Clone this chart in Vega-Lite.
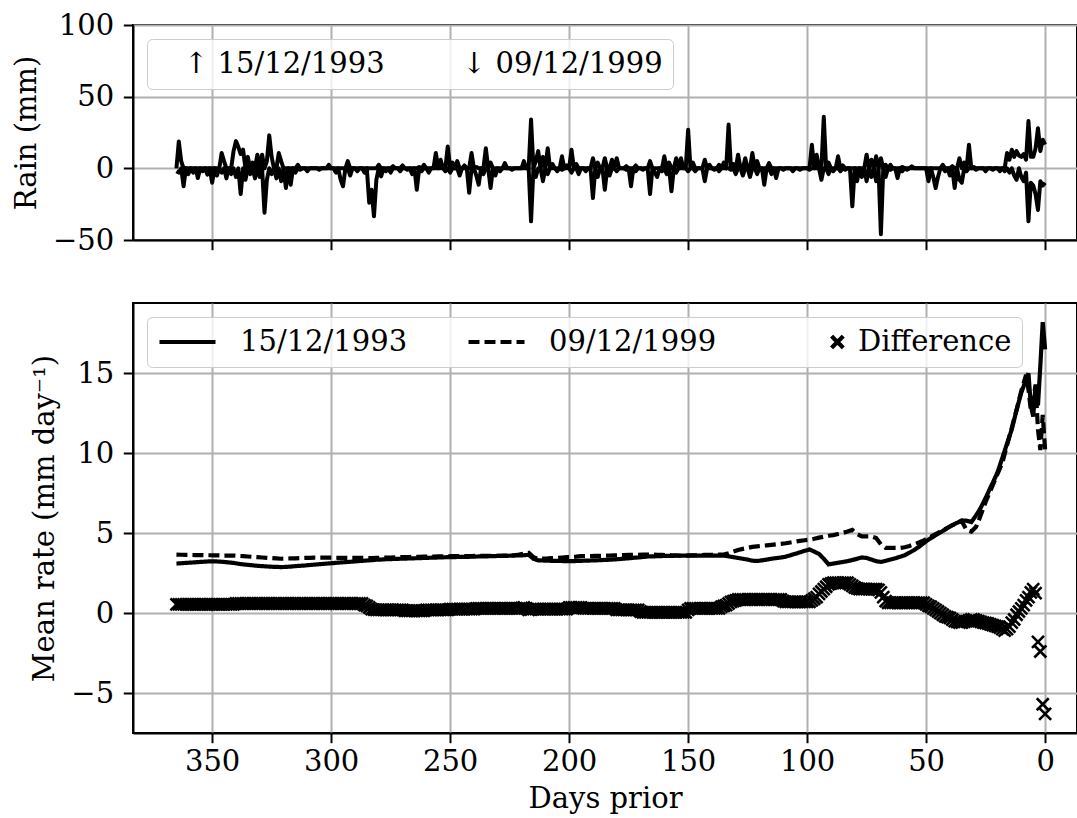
{
"$schema": "https://vega.github.io/schema/vega-lite/v6.json",
"background": "white",
"padding": {"left": 11, "top": 10, "right": 0, "bottom": 0},
"config": {
  "font": "DejaVu Serif",
  "view": {"stroke": "black", "strokeWidth": 2},
  "axis": {"domainColor": "black", "domainWidth": 2, "tickColor": "black", "tickWidth": 2, "tickSize": 9.7, "labelFont": "DejaVu Serif", "labelFontSize": 29, "labelColor": "black", "labelPadding": 9.7, "labelFlush": false, "titleFont": "DejaVu Serif", "titleFontSize": 29, "titleFontWeight": "normal", "titleColor": "black", "titlePadding": 11, "gridColor": "#b0b0b0", "gridWidth": 2},
  "legend": {"labelFont": "DejaVu Serif", "labelFontSize": 29, "labelColor": "black", "labelLimit": 500, "fillColor": "rgba(255,255,255,0.8)", "strokeColor": "#cccccc", "cornerRadius": 5, "padding": 10}
},
"datasets": {
"rain": [
{"d":365,"a":0,"b":-2},{"d":364,"a":18.8,"b":-3},{"d":363,"a":5,"b":0},{"d":362,"a":0,"b":-12.5},{"d":361,"a":0,"b":0},{"d":360,"a":0,"b":-4},{"d":359,"a":0,"b":0},{"d":358,"a":0,"b":-3},{"d":357,"a":0,"b":0},{"d":356,"a":0,"b":-6.7},{"d":355,"a":0,"b":0},{"d":354,"a":0,"b":-2},{"d":353,"a":0,"b":0},{"d":352,"a":0,"b":-4.4},{"d":351,"a":0,"b":0},{"d":350,"a":0,"b":-10},{"d":349,"a":0,"b":0},{"d":348,"a":0,"b":-5},{"d":347,"a":0,"b":0},{"d":346,"a":10.7,"b":-3},
{"d":345,"a":5,"b":0},{"d":344,"a":0,"b":-7},{"d":343,"a":0,"b":0},{"d":342,"a":0,"b":-4},{"d":341,"a":12,"b":0},{"d":340,"a":19,"b":-6},{"d":339,"a":15,"b":0},{"d":338,"a":10,"b":-18},{"d":337,"a":13,"b":0},{"d":336,"a":0,"b":-8},{"d":335,"a":8,"b":0},{"d":334,"a":0,"b":-4},{"d":333,"a":4,"b":0},{"d":332,"a":0,"b":-7},{"d":331,"a":9.5,"b":0},{"d":330,"a":0,"b":-6},{"d":329,"a":9.5,"b":0},{"d":328,"a":0,"b":-31},{"d":327,"a":5,"b":-8},{"d":326,"a":23,"b":0},
{"d":325,"a":8,"b":-4},{"d":324,"a":0,"b":0},{"d":323,"a":0,"b":-7},{"d":322,"a":10.7,"b":0},{"d":321,"a":5,"b":-9},{"d":320,"a":0,"b":0},{"d":319,"a":0,"b":-13.7},{"d":318,"a":0,"b":0},{"d":317,"a":0,"b":-11.4},{"d":316,"a":0,"b":0},{"d":315,"a":0,"b":-3},{"d":314,"a":2.5,"b":0},{"d":313,"a":0,"b":-1},{"d":312,"a":0,"b":0},{"d":311,"a":0,"b":0},{"d":310,"a":0,"b":-2},{"d":309,"a":0,"b":0},{"d":308,"a":0,"b":0},{"d":307,"a":0,"b":0},{"d":306,"a":0,"b":0},
{"d":305,"a":0,"b":-1},{"d":304,"a":0,"b":0},{"d":303,"a":0,"b":0},{"d":302,"a":0,"b":0},{"d":301,"a":2.5,"b":0},{"d":300,"a":0,"b":0},{"d":299,"a":0,"b":0},{"d":298,"a":0,"b":-3},{"d":297,"a":0,"b":0},{"d":296,"a":0,"b":-8},{"d":295,"a":0,"b":-12.5},{"d":294,"a":0,"b":0},{"d":293,"a":5,"b":0},{"d":292,"a":0,"b":-5},{"d":291,"a":0,"b":0},{"d":290,"a":0,"b":0},{"d":289,"a":0,"b":-2},{"d":288,"a":0,"b":0},{"d":287,"a":0,"b":0},{"d":286,"a":0,"b":-3},
{"d":285,"a":0,"b":0},{"d":284,"a":0,"b":-24},{"d":283,"a":0,"b":-15},{"d":282,"a":0,"b":-33.5},{"d":281,"a":0,"b":-8},{"d":280,"a":2.5,"b":0},{"d":279,"a":0,"b":-5.6},{"d":278,"a":0,"b":0},{"d":277,"a":0,"b":-2},{"d":276,"a":0,"b":0},{"d":275,"a":0,"b":-3},{"d":274,"a":1.5,"b":0},{"d":273,"a":0,"b":0},{"d":272,"a":0,"b":0},{"d":271,"a":0,"b":-2},{"d":270,"a":2,"b":0},{"d":269,"a":0,"b":0},{"d":268,"a":0,"b":-1},{"d":267,"a":0,"b":0},{"d":266,"a":0,"b":-4},
{"d":265,"a":0,"b":0},{"d":264,"a":0,"b":-15},{"d":263,"a":1,"b":0},{"d":262,"a":0,"b":-2},{"d":261,"a":2.5,"b":0},{"d":260,"a":0,"b":0},{"d":259,"a":0,"b":-3},{"d":258,"a":0,"b":0},{"d":257,"a":0,"b":0},{"d":256,"a":10.7,"b":0},{"d":255,"a":0,"b":0},{"d":254,"a":6,"b":0},{"d":253,"a":0,"b":0},{"d":252,"a":0,"b":-2},{"d":251,"a":15.3,"b":0},{"d":250,"a":0,"b":-3},{"d":249,"a":4,"b":0},{"d":248,"a":0,"b":0},{"d":247,"a":5,"b":0},{"d":246,"a":0,"b":-5},
{"d":245,"a":0,"b":0},{"d":244,"a":2,"b":0},{"d":243,"a":0,"b":0},{"d":242,"a":0,"b":-17},{"d":241,"a":10.7,"b":0},{"d":240,"a":0,"b":0},{"d":239,"a":1,"b":-5},{"d":238,"a":0,"b":-11.4},{"d":237,"a":0,"b":0},{"d":236,"a":0,"b":-4},{"d":235,"a":14,"b":0},{"d":234,"a":0,"b":0},{"d":233,"a":4,"b":-13.7},{"d":232,"a":0,"b":0},{"d":231,"a":0,"b":-5},{"d":230,"a":0,"b":0},{"d":229,"a":0,"b":-2},{"d":228,"a":0,"b":0},{"d":227,"a":3.7,"b":0},{"d":226,"a":0,"b":0},
{"d":225,"a":0,"b":0},{"d":224,"a":0,"b":-1},{"d":223,"a":0,"b":0},{"d":222,"a":0,"b":0},{"d":221,"a":0,"b":0},{"d":220,"a":0,"b":0},{"d":219,"a":5,"b":0},{"d":218,"a":0,"b":0},{"d":217,"a":0,"b":0},{"d":216,"a":34,"b":-37},{"d":215,"a":0,"b":0},{"d":214,"a":5,"b":-6},{"d":213,"a":12,"b":0},{"d":212,"a":0,"b":0},{"d":211,"a":8,"b":-9},{"d":210,"a":0,"b":0},{"d":209,"a":14,"b":-4},{"d":208,"a":0,"b":0},{"d":207,"a":3,"b":0},{"d":206,"a":0,"b":0},
{"d":205,"a":0,"b":-2},{"d":204,"a":0,"b":0},{"d":203,"a":8.4,"b":-1},{"d":202,"a":0,"b":0},{"d":201,"a":2,"b":0},{"d":200,"a":0,"b":0},{"d":199,"a":13,"b":-3},{"d":198,"a":0,"b":0},{"d":197,"a":3,"b":0},{"d":196,"a":0,"b":-4},{"d":195,"a":0,"b":0},{"d":194,"a":0,"b":0},{"d":193,"a":0,"b":-2},{"d":192,"a":0,"b":0},{"d":191,"a":0,"b":0},{"d":190,"a":7,"b":-20.7},{"d":189,"a":0,"b":0},{"d":188,"a":4,"b":-6},{"d":187,"a":0,"b":0},{"d":186,"a":0,"b":0},
{"d":185,"a":7,"b":-15},{"d":184,"a":0,"b":0},{"d":183,"a":0,"b":-5},{"d":182,"a":6,"b":0},{"d":181,"a":0,"b":0},{"d":180,"a":7,"b":-2},{"d":179,"a":0,"b":0},{"d":178,"a":0,"b":0},{"d":177,"a":0,"b":0},{"d":176,"a":1.5,"b":-1},{"d":175,"a":0,"b":0},{"d":174,"a":0,"b":-12.5},{"d":173,"a":0,"b":0},{"d":172,"a":2,"b":-2},{"d":171,"a":0,"b":0},{"d":170,"a":0,"b":0},{"d":169,"a":0,"b":-1},{"d":168,"a":0,"b":0},{"d":167,"a":0,"b":0},{"d":166,"a":5,"b":-18},
{"d":165,"a":0,"b":0},{"d":164,"a":0,"b":-3},{"d":163,"a":0,"b":-6},{"d":162,"a":0,"b":0},{"d":161,"a":0,"b":-2},{"d":160,"a":8.4,"b":0},{"d":159,"a":0,"b":-4},{"d":158,"a":4,"b":0},{"d":157,"a":0,"b":-16},{"d":156,"a":0,"b":0},{"d":155,"a":7,"b":-3},{"d":154,"a":0,"b":0},{"d":153,"a":7,"b":0},{"d":152,"a":0,"b":0},{"d":151,"a":0,"b":0},{"d":150,"a":27,"b":-2},{"d":149,"a":0,"b":0},{"d":148,"a":4,"b":0},{"d":147,"a":0,"b":-2},{"d":146,"a":0,"b":0},
{"d":145,"a":0,"b":0},{"d":144,"a":0,"b":0},{"d":143,"a":6,"b":-9},{"d":142,"a":0,"b":0},{"d":141,"a":2.5,"b":0},{"d":140,"a":0,"b":0},{"d":139,"a":0,"b":-1},{"d":138,"a":0,"b":0},{"d":137,"a":2.5,"b":-2},{"d":136,"a":0,"b":0},{"d":135,"a":4,"b":0},{"d":134,"a":0,"b":0},{"d":133,"a":30.5,"b":0},{"d":132,"a":0,"b":-1},{"d":131,"a":3,"b":0},{"d":130,"a":0,"b":-4},{"d":129,"a":9.5,"b":0},{"d":128,"a":0,"b":0},{"d":127,"a":0,"b":-5},{"d":126,"a":7,"b":0},
{"d":125,"a":0,"b":0},{"d":124,"a":0,"b":-6},{"d":123,"a":10.7,"b":0},{"d":122,"a":0,"b":0},{"d":121,"a":5,"b":-4},{"d":120,"a":0,"b":0},{"d":119,"a":0,"b":0},{"d":118,"a":0,"b":-11.4},{"d":117,"a":0,"b":0},{"d":116,"a":3.7,"b":0},{"d":115,"a":0,"b":-4},{"d":114,"a":0,"b":0},{"d":113,"a":0,"b":-6.7},{"d":112,"a":0,"b":0},{"d":111,"a":0,"b":0},{"d":110,"a":0,"b":-1},{"d":109,"a":0,"b":0},{"d":108,"a":0,"b":0},{"d":107,"a":0,"b":0},{"d":106,"a":0,"b":-2},
{"d":105,"a":0,"b":0},{"d":104,"a":0,"b":0},{"d":103,"a":0,"b":-1},{"d":102,"a":0,"b":0},{"d":101,"a":0,"b":0},{"d":100,"a":0,"b":0},{"d":99,"a":0,"b":-1},{"d":98,"a":16.5,"b":0},{"d":97,"a":0,"b":0},{"d":96,"a":9.5,"b":0},{"d":95,"a":0,"b":0},{"d":94,"a":0,"b":-8},{"d":93,"a":36,"b":0},{"d":92,"a":0,"b":0},{"d":91,"a":4,"b":-4},{"d":90,"a":0,"b":0},{"d":89,"a":0,"b":-2},{"d":88,"a":0,"b":0},{"d":87,"a":8.4,"b":0},{"d":86,"a":0,"b":-2},
{"d":85,"a":2,"b":0},{"d":84,"a":0,"b":-1},{"d":83,"a":0,"b":0},{"d":82,"a":0,"b":0},{"d":81,"a":0,"b":-26.5},{"d":80,"a":0,"b":0},{"d":79,"a":0,"b":-9},{"d":78,"a":0,"b":0},{"d":77,"a":0,"b":-6},{"d":76,"a":0,"b":0},{"d":75,"a":9.5,"b":-9},{"d":74,"a":0,"b":0},{"d":73,"a":6,"b":-6},{"d":72,"a":0,"b":0},{"d":71,"a":8.4,"b":-9},{"d":70,"a":0,"b":0},{"d":69,"a":7,"b":-46},{"d":68,"a":0,"b":0},{"d":67,"a":2.5,"b":-6},{"d":66,"a":0,"b":0},
{"d":65,"a":2.5,"b":-1},{"d":64,"a":0,"b":0},{"d":63,"a":0,"b":0},{"d":62,"a":0,"b":-6.7},{"d":61,"a":0,"b":0},{"d":60,"a":1,"b":-2},{"d":59,"a":0,"b":0},{"d":58,"a":0,"b":-1},{"d":57,"a":0,"b":0},{"d":56,"a":1.4,"b":0},{"d":55,"a":0,"b":0},{"d":54,"a":0,"b":0},{"d":53,"a":0,"b":0},{"d":52,"a":0,"b":0},{"d":51,"a":0,"b":0},{"d":50,"a":0,"b":0},{"d":49,"a":0,"b":-9},{"d":48,"a":0,"b":0},{"d":47,"a":0,"b":-6},{"d":46,"a":0,"b":-13.7},
{"d":45,"a":0,"b":-6},{"d":44,"a":0,"b":0},{"d":43,"a":2.5,"b":0},{"d":42,"a":0,"b":-2},{"d":41,"a":0,"b":0},{"d":40,"a":0,"b":-5},{"d":39,"a":1.5,"b":0},{"d":38,"a":0,"b":-13.7},{"d":37,"a":0,"b":0},{"d":36,"a":7,"b":-8},{"d":35,"a":0,"b":-10},{"d":34,"a":4,"b":0},{"d":33,"a":0,"b":-2},{"d":32,"a":16.5,"b":0},{"d":31,"a":0,"b":0},{"d":30,"a":1,"b":0},{"d":29,"a":0,"b":-1},{"d":28,"a":0,"b":0},{"d":27,"a":0,"b":0},{"d":26,"a":0,"b":0},
{"d":25,"a":0,"b":-2},{"d":24,"a":0,"b":0},{"d":23,"a":0,"b":0},{"d":22,"a":0,"b":-1},{"d":21,"a":0,"b":0},{"d":20,"a":0,"b":0},{"d":19,"a":0,"b":-2},{"d":18,"a":0,"b":0},{"d":17,"a":0,"b":-2},{"d":16,"a":10.7,"b":0},{"d":15,"a":6,"b":-3},{"d":14,"a":13,"b":0},{"d":13,"a":8,"b":-5},{"d":12,"a":12,"b":-8},{"d":11,"a":9,"b":0},{"d":10,"a":8,"b":-6},{"d":9,"a":10,"b":-9},{"d":8,"a":6,"b":-3},{"d":7,"a":33,"b":-37},{"d":6,"a":8,"b":-10},
{"d":5,"a":8,"b":-12},{"d":4,"a":14,"b":-18},{"d":3,"a":28,"b":-29},{"d":2,"a":12,"b":-9},{"d":1,"a":20,"b":-12},{"d":0,"a":16.5,"b":-10}
],
"rate": [
{"d":365,"p":3.10,"q":3.66,"r":0.55},{"d":363,"p":3.12,"q":3.65,"r":0.55},{"d":361,"p":3.14,"q":3.64,"r":0.55},{"d":359,"p":3.16,"q":3.64,"r":0.55},{"d":357,"p":3.18,"q":3.63,"r":0.55},{"d":355,"p":3.20,"q":3.63,"r":0.55},{"d":353,"p":3.22,"q":3.62,"r":0.55},{"d":351,"p":3.24,"q":3.62,"r":0.55},{"d":349,"p":3.24,"q":3.61,"r":0.55},{"d":347,"p":3.22,"q":3.61,"r":0.55},
{"d":345,"p":3.20,"q":3.60,"r":0.55},{"d":343,"p":3.17,"q":3.60,"r":0.55},{"d":341,"p":3.14,"q":3.60,"r":0.55},{"d":339,"p":3.09,"q":3.58,"r":0.6},{"d":337,"p":3.05,"q":3.56,"r":0.6},{"d":335,"p":3.02,"q":3.54,"r":0.6},{"d":333,"p":2.99,"q":3.52,"r":0.6},{"d":331,"p":2.96,"q":3.50,"r":0.6},{"d":329,"p":2.94,"q":3.48,"r":0.6},{"d":327,"p":2.92,"q":3.46,"r":0.6},
{"d":325,"p":2.90,"q":3.44,"r":0.6},{"d":323,"p":2.89,"q":3.42,"r":0.6},{"d":321,"p":2.88,"q":3.40,"r":0.6},{"d":319,"p":2.89,"q":3.41,"r":0.6},{"d":317,"p":2.91,"q":3.42,"r":0.6},{"d":315,"p":2.94,"q":3.43,"r":0.6},{"d":313,"p":2.96,"q":3.44,"r":0.6},{"d":311,"p":2.98,"q":3.45,"r":0.6},{"d":309,"p":3.01,"q":3.46,"r":0.6},{"d":307,"p":3.03,"q":3.47,"r":0.6},
{"d":305,"p":3.06,"q":3.47,"r":0.6},{"d":303,"p":3.08,"q":3.47,"r":0.6},{"d":301,"p":3.11,"q":3.47,"r":0.6},{"d":299,"p":3.13,"q":3.47,"r":0.6},{"d":297,"p":3.16,"q":3.46,"r":0.6},{"d":295,"p":3.18,"q":3.46,"r":0.6},{"d":293,"p":3.20,"q":3.45,"r":0.6},{"d":291,"p":3.22,"q":3.45,"r":0.6},{"d":289,"p":3.25,"q":3.45,"r":0.6},{"d":287,"p":3.27,"q":3.45,"r":0.6},
{"d":285,"p":3.29,"q":3.45,"r":0.45},{"d":283,"p":3.31,"q":3.44,"r":0.25},{"d":281,"p":3.34,"q":3.45,"r":0.2},{"d":279,"p":3.35,"q":3.46,"r":0.2},{"d":277,"p":3.37,"q":3.47,"r":0.2},{"d":275,"p":3.38,"q":3.48,"r":0.2},{"d":273,"p":3.39,"q":3.49,"r":0.2},{"d":271,"p":3.40,"q":3.50,"r":0.2},{"d":269,"p":3.41,"q":3.50,"r":0.15},{"d":267,"p":3.42,"q":3.51,"r":0.15},
{"d":265,"p":3.43,"q":3.52,"r":0.15},{"d":263,"p":3.44,"q":3.52,"r":0.15},{"d":261,"p":3.45,"q":3.53,"r":0.15},{"d":259,"p":3.46,"q":3.53,"r":0.2},{"d":257,"p":3.47,"q":3.54,"r":0.2},{"d":255,"p":3.48,"q":3.55,"r":0.2},{"d":253,"p":3.49,"q":3.55,"r":0.2},{"d":251,"p":3.50,"q":3.55,"r":0.2},{"d":249,"p":3.50,"q":3.56,"r":0.25},{"d":247,"p":3.51,"q":3.56,"r":0.25},
{"d":245,"p":3.52,"q":3.57,"r":0.25},{"d":243,"p":3.52,"q":3.57,"r":0.25},{"d":241,"p":3.53,"q":3.57,"r":0.25},{"d":239,"p":3.54,"q":3.58,"r":0.3},{"d":237,"p":3.55,"q":3.58,"r":0.3},{"d":235,"p":3.55,"q":3.58,"r":0.3},{"d":233,"p":3.56,"q":3.59,"r":0.3},{"d":231,"p":3.57,"q":3.59,"r":0.3},{"d":229,"p":3.58,"q":3.59,"r":0.3},{"d":227,"p":3.58,"q":3.60,"r":0.3},
{"d":225,"p":3.59,"q":3.60,"r":0.3},{"d":223,"p":3.60,"q":3.62,"r":0.3},{"d":221,"p":3.61,"q":3.66,"r":0.3},{"d":219,"p":3.62,"q":3.72,"r":0.35},{"d":217,"p":3.65,"q":3.77,"r":0.2},{"d":215,"p":3.40,"q":3.50,"r":0.25},{"d":213,"p":3.30,"q":3.40,"r":0.25},{"d":211,"p":3.29,"q":3.41,"r":0.25},{"d":209,"p":3.28,"q":3.42,"r":0.25},{"d":207,"p":3.27,"q":3.44,"r":0.25},
{"d":205,"p":3.27,"q":3.46,"r":0.25},{"d":203,"p":3.26,"q":3.48,"r":0.25},{"d":201,"p":3.25,"q":3.50,"r":0.25},{"d":199,"p":3.25,"q":3.51,"r":0.35},{"d":197,"p":3.26,"q":3.53,"r":0.35},{"d":195,"p":3.27,"q":3.56,"r":0.35},{"d":193,"p":3.28,"q":3.56,"r":0.3},{"d":191,"p":3.29,"q":3.57,"r":0.3},{"d":189,"p":3.30,"q":3.58,"r":0.3},{"d":187,"p":3.31,"q":3.58,"r":0.3},
{"d":185,"p":3.33,"q":3.59,"r":0.3},{"d":183,"p":3.34,"q":3.60,"r":0.3},{"d":181,"p":3.36,"q":3.61,"r":0.3},{"d":179,"p":3.38,"q":3.62,"r":0.2},{"d":177,"p":3.41,"q":3.63,"r":0.2},{"d":175,"p":3.43,"q":3.64,"r":0.2},{"d":173,"p":3.46,"q":3.65,"r":0.2},{"d":171,"p":3.48,"q":3.65,"r":0.2},{"d":169,"p":3.51,"q":3.66,"r":0.05},{"d":167,"p":3.54,"q":3.66,"r":0.05},
{"d":165,"p":3.55,"q":3.66,"r":0.05},{"d":163,"p":3.56,"q":3.65,"r":0.05},{"d":161,"p":3.57,"q":3.64,"r":0.05},{"d":159,"p":3.58,"q":3.63,"r":0.05},{"d":157,"p":3.58,"q":3.62,"r":0.05},{"d":155,"p":3.59,"q":3.61,"r":0.05},{"d":153,"p":3.59,"q":3.60,"r":0.05},{"d":151,"p":3.60,"q":3.60,"r":0.05},{"d":149,"p":3.60,"q":3.61,"r":0.3},{"d":147,"p":3.60,"q":3.62,"r":0.3},
{"d":145,"p":3.60,"q":3.63,"r":0.3},{"d":143,"p":3.60,"q":3.64,"r":0.3},{"d":141,"p":3.60,"q":3.65,"r":0.3},{"d":139,"p":3.60,"q":3.65,"r":0.3},{"d":137,"p":3.60,"q":3.66,"r":0.3},{"d":135,"p":3.60,"q":3.66,"r":0.45},{"d":133,"p":3.55,"q":3.75,"r":0.6},{"d":131,"p":3.50,"q":3.85,"r":0.75},{"d":129,"p":3.45,"q":3.95,"r":0.85},{"d":127,"p":3.40,"q":4.02,"r":0.85},
{"d":125,"p":3.35,"q":4.08,"r":0.85},{"d":123,"p":3.28,"q":4.14,"r":0.85},{"d":121,"p":3.26,"q":4.18,"r":0.85},{"d":119,"p":3.30,"q":4.21,"r":0.85},{"d":117,"p":3.35,"q":4.24,"r":0.85},{"d":115,"p":3.40,"q":4.27,"r":0.85},{"d":113,"p":3.44,"q":4.30,"r":0.85},{"d":111,"p":3.48,"q":4.33,"r":0.85},{"d":109,"p":3.53,"q":4.37,"r":0.7},{"d":107,"p":3.62,"q":4.42,"r":0.7},
{"d":105,"p":3.71,"q":4.47,"r":0.7},{"d":103,"p":3.80,"q":4.52,"r":0.7},{"d":101,"p":3.90,"q":4.56,"r":0.7},{"d":99,"p":3.98,"q":4.60,"r":0.7},{"d":97,"p":3.85,"q":4.65,"r":0.9},{"d":95,"p":3.70,"q":4.72,"r":1.2},{"d":93,"p":3.40,"q":4.78,"r":1.5},{"d":91,"p":3.05,"q":4.84,"r":1.8},{"d":89,"p":3.10,"q":4.88,"r":1.9},{"d":87,"p":3.15,"q":4.95,"r":1.9},
{"d":85,"p":3.20,"q":5.02,"r":1.9},{"d":83,"p":3.25,"q":5.10,"r":1.9},{"d":81,"p":3.32,"q":5.20,"r":1.7},{"d":79,"p":3.40,"q":4.95,"r":1.55},{"d":77,"p":3.48,"q":4.80,"r":1.5},{"d":75,"p":3.45,"q":4.80,"r":1.5},{"d":73,"p":3.35,"q":4.80,"r":1.5},{"d":71,"p":3.25,"q":4.70,"r":1.5},{"d":69,"p":3.20,"q":4.30,"r":1.3},{"d":67,"p":3.27,"q":4.08,"r":0.75},
{"d":65,"p":3.35,"q":4.08,"r":0.65},{"d":63,"p":3.43,"q":4.08,"r":0.65},{"d":61,"p":3.52,"q":4.08,"r":0.65},{"d":59,"p":3.62,"q":4.12,"r":0.65},{"d":57,"p":3.78,"q":4.20,"r":0.65},{"d":55,"p":3.95,"q":4.30,"r":0.65},{"d":53,"p":4.15,"q":4.42,"r":0.65},{"d":51,"p":4.38,"q":4.55,"r":0.65},{"d":49,"p":4.60,"q":4.70,"r":0.45},{"d":47,"p":4.78,"q":4.86,"r":0.3},
{"d":45,"p":4.96,"q":5.02,"r":0.1},{"d":43,"p":5.14,"q":5.18,"r":-0.1},{"d":41,"p":5.32,"q":5.34,"r":-0.25},{"d":39,"p":5.50,"q":5.50,"r":-0.4},{"d":37,"p":5.65,"q":5.62,"r":-0.55},{"d":35,"p":5.80,"q":5.75,"r":-0.6},{"d":33,"p":5.78,"q":5.20,"r":-0.5},{"d":31,"p":5.70,"q":5.10,"r":-0.4},{"d":30,"p":5.90,"q":5.25,"r":-0.4},{"d":29,"p":6.12,"q":5.40,"r":-0.45},
{"d":28,"p":6.35,"q":5.75,"r":-0.5},{"d":27,"p":6.60,"q":6.15,"r":-0.55},{"d":26,"p":6.90,"q":6.55,"r":-0.6},{"d":25,"p":7.20,"q":6.95,"r":-0.62},{"d":24,"p":7.52,"q":7.30,"r":-0.65},{"d":23,"p":7.85,"q":7.65,"r":-0.7},{"d":22,"p":8.15,"q":8.00,"r":-0.75},{"d":21,"p":8.48,"q":8.35,"r":-0.8},{"d":20,"p":8.80,"q":8.70,"r":-0.85},{"d":19,"p":9.25,"q":9.05,"r":-0.9},
{"d":18,"p":9.70,"q":9.40,"r":-1.0},{"d":17,"p":10.15,"q":9.95,"r":-1.1},{"d":16,"p":10.60,"q":10.50,"r":-1.0},{"d":15,"p":11.05,"q":11.05,"r":-0.85},{"d":14,"p":11.50,"q":11.60,"r":-0.6},{"d":13,"p":12.10,"q":12.15,"r":-0.4},{"d":12,"p":12.70,"q":12.70,"r":-0.1},{"d":11,"p":13.25,"q":13.30,"r":0.1},{"d":10,"p":13.80,"q":13.90,"r":0.3},{"d":9,"p":14.20,"q":14.40,"r":0.5},
{"d":8,"p":14.60,"q":14.90,"r":0.8},{"d":7,"p":15.00,"q":14.00,"r":1.0},{"d":6,"p":13.00,"q":12.70,"r":1.3},{"d":5,"p":12.30,"q":13.50,"r":1.5},{"d":4,"p":14.30,"q":14.20,"r":1.25},{"d":3,"p":13.00,"q":11.50,"r":-1.8},{"d":2,"p":15.50,"q":10.20,"r":-2.4},{"d":1,"p":18.20,"q":12.40,"r":-5.7},{"d":0,"p":16.50,"q":10.20,"r":-6.3}
],
"diffeven": [
{"d":364,"r":0.55},{"d":362,"r":0.55},{"d":360,"r":0.55},{"d":358,"r":0.55},{"d":356,"r":0.55},{"d":354,"r":0.55},{"d":352,"r":0.55},{"d":350,"r":0.55},{"d":348,"r":0.55},{"d":346,"r":0.55},{"d":344,"r":0.55},{"d":342,"r":0.55},
{"d":340,"r":0.6},{"d":338,"r":0.6},{"d":336,"r":0.6},{"d":334,"r":0.6},{"d":332,"r":0.6},{"d":330,"r":0.6},{"d":328,"r":0.6},{"d":326,"r":0.6},{"d":324,"r":0.6},{"d":322,"r":0.6},{"d":320,"r":0.6},{"d":318,"r":0.6},{"d":316,"r":0.6},{"d":314,"r":0.6},
{"d":312,"r":0.6},{"d":310,"r":0.6},{"d":308,"r":0.6},{"d":306,"r":0.6},{"d":304,"r":0.6},{"d":302,"r":0.6},{"d":300,"r":0.6},{"d":298,"r":0.6},{"d":296,"r":0.6},{"d":294,"r":0.6},{"d":292,"r":0.6},{"d":290,"r":0.6},{"d":288,"r":0.6},
{"d":286,"r":0.5},{"d":284,"r":0.35},{"d":282,"r":0.22},{"d":280,"r":0.2},{"d":278,"r":0.2},{"d":276,"r":0.2},{"d":274,"r":0.2},{"d":272,"r":0.2},{"d":270,"r":0.2},{"d":268,"r":0.15},{"d":266,"r":0.15},{"d":264,"r":0.15},{"d":262,"r":0.15},
{"d":260,"r":0.2},{"d":258,"r":0.2},{"d":256,"r":0.2},{"d":254,"r":0.2},{"d":252,"r":0.2},{"d":250,"r":0.25},{"d":248,"r":0.25},{"d":246,"r":0.25},{"d":244,"r":0.25},{"d":242,"r":0.25},{"d":240,"r":0.25},
{"d":238,"r":0.3},{"d":236,"r":0.3},{"d":234,"r":0.3},{"d":232,"r":0.3},{"d":230,"r":0.3},{"d":228,"r":0.3},{"d":226,"r":0.3},{"d":224,"r":0.3},{"d":222,"r":0.3},{"d":220,"r":0.32},{"d":218,"r":0.3},{"d":216,"r":0.22},
{"d":214,"r":0.25},{"d":212,"r":0.25},{"d":210,"r":0.25},{"d":208,"r":0.25},{"d":206,"r":0.25},{"d":204,"r":0.25},{"d":202,"r":0.25},{"d":200,"r":0.35},{"d":198,"r":0.35},{"d":196,"r":0.35},
{"d":194,"r":0.3},{"d":192,"r":0.3},{"d":190,"r":0.3},{"d":188,"r":0.3},{"d":186,"r":0.3},{"d":184,"r":0.3},{"d":182,"r":0.3},{"d":180,"r":0.2},{"d":178,"r":0.2},{"d":176,"r":0.2},{"d":174,"r":0.2},{"d":172,"r":0.2},{"d":170,"r":0.1},
{"d":168,"r":0.05},{"d":166,"r":0.05},{"d":164,"r":0.05},{"d":162,"r":0.05},{"d":160,"r":0.05},{"d":158,"r":0.05},{"d":156,"r":0.05},{"d":154,"r":0.05},{"d":152,"r":0.05},{"d":150,"r":0.2},
{"d":148,"r":0.3},{"d":146,"r":0.3},{"d":144,"r":0.3},{"d":142,"r":0.3},{"d":140,"r":0.3},{"d":138,"r":0.3},{"d":136,"r":0.4},{"d":134,"r":0.5},{"d":132,"r":0.7},{"d":130,"r":0.8},
{"d":128,"r":0.85},{"d":126,"r":0.85},{"d":124,"r":0.85},{"d":122,"r":0.85},{"d":120,"r":0.85},{"d":118,"r":0.85},{"d":116,"r":0.85},{"d":114,"r":0.85},{"d":112,"r":0.85},{"d":110,"r":0.75},
{"d":108,"r":0.7},{"d":106,"r":0.7},{"d":104,"r":0.7},{"d":102,"r":0.7},{"d":100,"r":0.7},{"d":98,"r":0.8},{"d":96,"r":1.0},{"d":94,"r":1.35},{"d":92,"r":1.65},{"d":90,"r":1.85},
{"d":88,"r":1.9},{"d":86,"r":1.9},{"d":84,"r":1.9},{"d":82,"r":1.8},{"d":80,"r":1.6},{"d":78,"r":1.5},{"d":76,"r":1.5},{"d":74,"r":1.5},{"d":72,"r":1.5},{"d":70,"r":1.45},{"d":68,"r":1.0},
{"d":66,"r":0.65},{"d":64,"r":0.65},{"d":62,"r":0.65},{"d":60,"r":0.65},{"d":58,"r":0.65},{"d":56,"r":0.65},{"d":54,"r":0.65},{"d":52,"r":0.65},{"d":50,"r":0.55},{"d":48,"r":0.4},{"d":46,"r":0.2},
{"d":44,"r":0.0},{"d":42,"r":-0.2},{"d":40,"r":-0.3},{"d":38,"r":-0.5},{"d":36,"r":-0.6},{"d":34,"r":-0.55},{"d":32,"r":-0.45}
]
},
"spacing": 46,
"resolve": {"scale": {"x": "independent", "y": "independent", "color": "independent"}, "legend": {"color": "independent"}},
"vconcat": [
{
  "width": 944,
  "height": 215,
  "data": {"name": "rain"},
  "transform": [{"fold": ["a", "b"], "as": ["key", "value"]}],
  "mark": {"type": "line", "strokeWidth": 4, "strokeJoin": "round"},
  "encoding": {
    "x": {"field": "d", "type": "quantitative", "scale": {"domain": [383.25, -13.4], "nice": false, "zero": false}, "axis": {"values": [0, 50, 100, 150, 200, 250, 300, 350], "labels": false, "title": null, "grid": true}},
    "y": {"field": "value", "type": "quantitative", "scale": {"domain": [-50, 100], "nice": false, "zero": false}, "axis": {"values": [-50, 0, 50, 100], "title": "Rain (mm)", "grid": true}},
    "color": {"field": "key", "type": "nominal", "scale": {"domain": ["a", "b"], "range": ["black", "black"]},
      "legend": {"title": null, "orient": "top-left", "offset": 14, "direction": "horizontal", "columns": 2, "columnPadding": 50, "symbolType": "stroke", "symbolSize": 4, "symbolOpacity": 0, "symbolStrokeWidth": 0, "labelOffset": -2, "labelExpr": "datum.value == 'a' ? '↑ 15/12/1993' : '↓ 09/12/1999'"}}
  }
},
{
  "width": 944,
  "height": 430,
  "layer": [
    {
      "data": {"name": "rate"},
      "transform": [{"fold": ["p", "q"], "as": ["key", "value"]}],
      "mark": {"type": "line", "strokeWidth": 4.2},
      "encoding": {
        "x": {"field": "d", "type": "quantitative", "scale": {"domain": [383.25, -13.4], "nice": false, "zero": false}, "axis": {"values": [0, 50, 100, 150, 200, 250, 300, 350], "title": "Days prior", "grid": true, "labelPadding": 5, "titlePadding": 8}},
        "y": {"field": "value", "type": "quantitative", "scale": {"domain": [-7.5, 19.4], "nice": false, "zero": false}, "axis": {"values": [-5, 0, 5, 10, 15], "title": "Mean rate (mm day⁻¹)", "grid": true}},
        "color": {"field": "key", "type": "nominal", "scale": {"domain": ["p", "q", "r"], "range": ["black", "black", "black"]},
          "legend": {"title": null, "orient": "top-left", "offset": 14, "direction": "horizontal", "columns": 3, "columnPadding": 58, "symbolType": "stroke", "symbolSize": 3136, "symbolStrokeWidth": 4.2, "labelOffset": 22, "clipHeight": 30, "labelExpr": "datum.value == 'p' ? '15/12/1993' : datum.value == 'q' ? '09/12/1999' : 'Difference'",
            "encode": {"symbols": {"update": {
              "shape": {"signal": "datum.value == 'r' ? 'M0.93,-0.21L1.35,0.21M0.93,0.21L1.35,-0.21' : 'stroke'"},
              "strokeDash": {"signal": "datum.value == 'q' ? [11,5] : [1,0]"},
              "stroke": {"value": "black"},
              "fill": {"value": "transparent"},
              "opacity": {"value": 1}
            }}}}},
        "strokeDash": {"field": "key", "type": "nominal", "scale": {"domain": ["p", "q"], "range": [[1, 0], [11, 5]]}, "legend": null}
      }
    },
    {
      "data": {"name": "rate"},
      "transform": [{"fold": ["r"], "as": ["key", "value"]}],
      "mark": {"type": "point", "shape": "M-1,-1L1,1M-1,1L1,-1", "size": 144, "strokeWidth": 2.6, "filled": false, "opacity": 1},
      "encoding": {
        "x": {"field": "d", "type": "quantitative"},
        "y": {"field": "value", "type": "quantitative"},
        "color": {"field": "key", "type": "nominal"}
      }
    },
    {
      "data": {"name": "diffeven"},
      "transform": [{"fold": ["r"], "as": ["key", "value"]}],
      "mark": {"type": "point", "shape": "M-1,-1L1,1M-1,1L1,-1", "size": 144, "strokeWidth": 2.6, "filled": false, "opacity": 1},
      "encoding": {
        "x": {"field": "d", "type": "quantitative"},
        "y": {"field": "value", "type": "quantitative"},
        "color": {"field": "key", "type": "nominal"}
      }
    }
  ]
}
]
}
